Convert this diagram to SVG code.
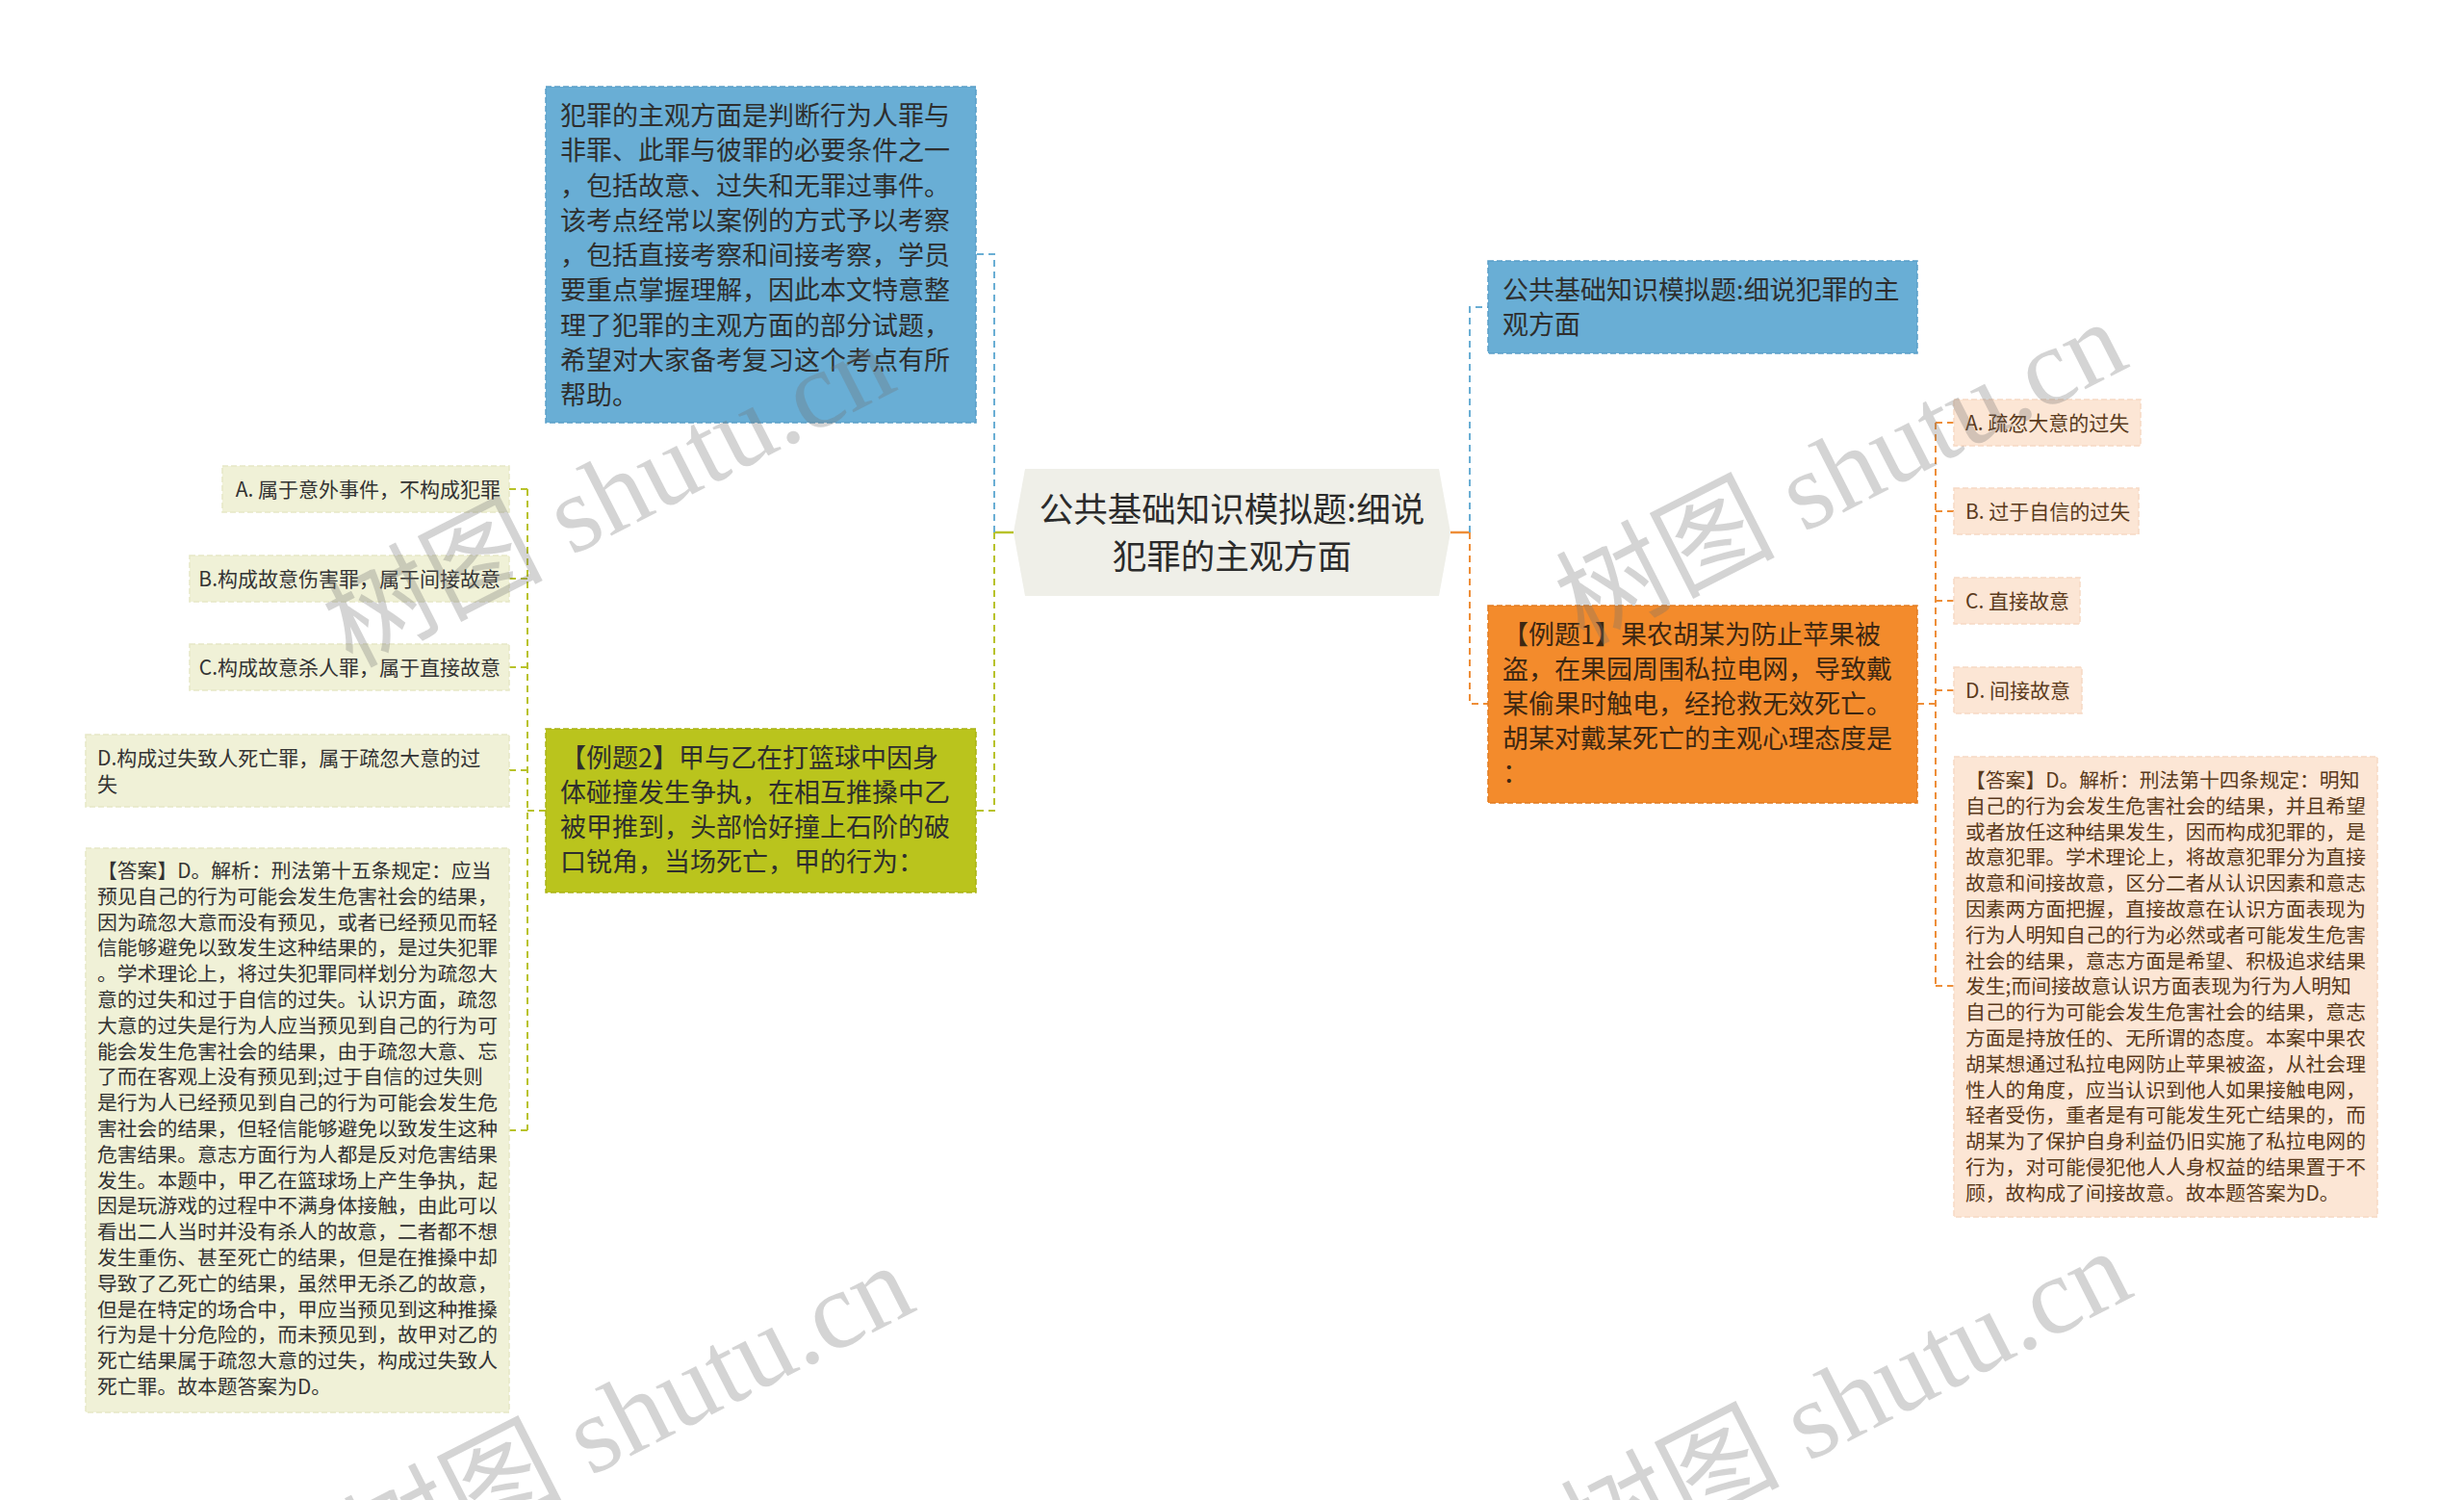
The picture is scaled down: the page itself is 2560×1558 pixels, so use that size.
<svg xmlns="http://www.w3.org/2000/svg" width="2560" height="1558" viewBox="0 0 2560 1558">
<style>
text{font-family:"Noto Sans CJK SC","Microsoft YaHei",sans-serif}
.t27{font-size:27px;fill:#2e2e2e}
.t21{font-size:21px;fill:#333333}
.tr21{font-size:21px;fill:#5a3a1c}
.ta{font-size:20.8px;fill:#333333}
.tra{font-size:20.8px;fill:#5a3a1c}
.blue{fill:#69aed5;stroke:#5a9fc8;stroke-width:1.5;stroke-dasharray:6 3}
.olive{fill:#bac41d;stroke:#a9b214;stroke-width:1.5;stroke-dasharray:6 3}
.orange{fill:#f38b2c;stroke:#e27c20;stroke-width:1.5;stroke-dasharray:6 3}
.pale{fill:#f0f1d7;stroke:#e6e8c6;stroke-width:1.5;stroke-dasharray:6 3}
.peach{fill:#fce6d5;stroke:#f6d9c4;stroke-width:1.5;stroke-dasharray:6 3}
.cb{fill:none;stroke:#6aaed4;stroke-width:2;stroke-dasharray:7 5}
.cg{fill:none;stroke:#b8c22a;stroke-width:2;stroke-dasharray:7 5}
.co{fill:none;stroke:#ee8e38;stroke-width:2;stroke-dasharray:7 5}
.wm{font-family:"Liberation Serif","Noto Sans CJK SC",serif;font-size:114px;fill:#6f6f6f;fill-opacity:0.3}
</style>
<rect width="2560" height="1558" fill="#ffffff"/>

<g id="connectors">
  <path d="M1053,553 H1033" stroke="#b8c22a" stroke-width="2.5" fill="none"/>
  <path class="cb" d="M1033,553 V264 H1014"/>
  <path class="cg" d="M1033,553 V842 H1014"/>
  <path class="cg" d="M567,842 H548"/>
  <path class="cg" d="M548,508 V1174"/>
  <path class="cg" d="M548,508 H529 M548,601 H529 M548,693 H529 M548,800 H529 M548,1174 H529"/>
  <path d="M1507,553 H1527" stroke="#ee8e38" stroke-width="2.5" fill="none"/>
  <path class="cb" d="M1527,553 V319 H1546"/>
  <path class="co" d="M1527,553 V731 H1546"/>
  <path class="co" d="M1992,731 H2011"/>
  <path class="co" d="M2011,439 V1024"/>
  <path class="co" d="M2011,439 H2030 M2011,531 H2030 M2011,624 H2030 M2011,717 H2030 M2011,1024 H2030"/>
</g>

<g id="center">
  <polygon points="1053,553 1065,487 1495,487 1507,553 1495,619 1065,619" fill="#efefe8"/>
  <text x="1280" y="542" text-anchor="middle" style="font-size:35.5px;fill:#2b2b2b">公共基础知识模拟题:细说</text>
  <text x="1280" y="591" text-anchor="middle" style="font-size:35.5px;fill:#2b2b2b">犯罪的主观方面</text>
</g>

<g id="intro">
  <rect class="blue" x="567" y="90" width="447" height="349"/>
  <text class="t27" x="582" y="130">犯罪的主观方面是判断行为人罪与</text>
  <text class="t27" x="582" y="166">非罪、此罪与彼罪的必要条件之一</text>
  <text class="t27" x="582" y="203">，包括故意、过失和无罪过事件。</text>
  <text class="t27" x="582" y="239">该考点经常以案例的方式予以考察</text>
  <text class="t27" x="582" y="275">，包括直接考察和间接考察，学员</text>
  <text class="t27" x="582" y="311">要重点掌握理解，因此本文特意整</text>
  <text class="t27" x="582" y="348">理了犯罪的主观方面的部分试题，</text>
  <text class="t27" x="582" y="384">希望对大家备考复习这个考点有所</text>
  <text class="t27" x="582" y="420">帮助。</text>
</g>

<g id="example2">
  <rect class="olive" x="567" y="757" width="447" height="170"/>
  <text class="t27" x="582" y="797">【例题2】甲与乙在打篮球中因身</text>
  <text class="t27" x="582" y="833">体碰撞发生争执，在相互推搡中乙</text>
  <text class="t27" x="582" y="869">被甲推到，头部恰好撞上石阶的破</text>
  <text class="t27" x="582" y="905">口锐角，当场死亡，甲的行为：</text>
</g>

<g id="left-option-a">
  <rect class="pale" x="231" y="484" width="298" height="48"/>
  <text class="t21" x="520" y="516" text-anchor="end">A. 属于意外事件，不构成犯罪</text>
</g>
<g id="left-option-b">
  <rect class="pale" x="197" y="577" width="332" height="48"/>
  <text class="t21" x="520" y="609" text-anchor="end">B.构成故意伤害罪，属于间接故意</text>
</g>
<g id="left-option-c">
  <rect class="pale" x="197" y="669" width="332" height="48"/>
  <text class="t21" x="520" y="701" text-anchor="end">C.构成故意杀人罪，属于直接故意</text>
</g>
<g id="left-option-d">
  <rect class="pale" x="89" y="763" width="440" height="75"/>
  <text class="t21" x="101" y="795">D.构成过失致人死亡罪，属于疏忽大意的过</text>
  <text class="t21" x="101" y="822">失</text>
</g>

<g id="left-answer">
  <rect class="pale" x="89" y="881" width="440" height="586"/>
  <text class="ta" x="101" y="912">【答案】D。解析：刑法第十五条规定：应当</text>
  <text class="ta" x="101" y="939">预见自己的行为可能会发生危害社会的结果，</text>
  <text class="ta" x="101" y="966">因为疏忽大意而没有预见，或者已经预见而轻</text>
  <text class="ta" x="101" y="992">信能够避免以致发生这种结果的，是过失犯罪</text>
  <text class="ta" x="101" y="1019">。学术理论上，将过失犯罪同样划分为疏忽大</text>
  <text class="ta" x="101" y="1046">意的过失和过于自信的过失。认识方面，疏忽</text>
  <text class="ta" x="101" y="1073">大意的过失是行为人应当预见到自己的行为可</text>
  <text class="ta" x="101" y="1100">能会发生危害社会的结果，由于疏忽大意、忘</text>
  <text class="ta" x="101" y="1126">了而在客观上没有预见到;过于自信的过失则</text>
  <text class="ta" x="101" y="1153">是行为人已经预见到自己的行为可能会发生危</text>
  <text class="ta" x="101" y="1180">害社会的结果，但轻信能够避免以致发生这种</text>
  <text class="ta" x="101" y="1207">危害结果。意志方面行为人都是反对危害结果</text>
  <text class="ta" x="101" y="1234">发生。本题中，甲乙在篮球场上产生争执，起</text>
  <text class="ta" x="101" y="1260">因是玩游戏的过程中不满身体接触，由此可以</text>
  <text class="ta" x="101" y="1287">看出二人当时并没有杀人的故意，二者都不想</text>
  <text class="ta" x="101" y="1314">发生重伤、甚至死亡的结果，但是在推搡中却</text>
  <text class="ta" x="101" y="1341">导致了乙死亡的结果，虽然甲无杀乙的故意，</text>
  <text class="ta" x="101" y="1368">但是在特定的场合中，甲应当预见到这种推搡</text>
  <text class="ta" x="101" y="1394">行为是十分危险的，而未预见到，故甲对乙的</text>
  <text class="ta" x="101" y="1421">死亡结果属于疏忽大意的过失，构成过失致人</text>
  <text class="ta" x="101" y="1448">死亡罪。故本题答案为D。</text>
</g>

<g id="title-right">
  <rect class="blue" x="1546" y="271" width="446" height="96"/>
  <text class="t27" x="1561" y="311">公共基础知识模拟题:细说犯罪的主</text>
  <text class="t27" x="1561" y="347">观方面</text>
</g>

<g id="example1">
  <rect class="orange" x="1546" y="629" width="446" height="205"/>
  <text class="t27" x="1561" y="669" style="fill:#3d2712">【例题1】果农胡某为防止苹果被</text>
  <text class="t27" x="1561" y="705" style="fill:#3d2712">盗，在果园周围私拉电网，导致戴</text>
  <text class="t27" x="1561" y="741" style="fill:#3d2712">某偷果时触电，经抢救无效死亡。</text>
  <text class="t27" x="1561" y="777" style="fill:#3d2712">胡某对戴某死亡的主观心理态度是</text>
  <text class="t27" x="1561" y="813" style="fill:#3d2712">：</text>
</g>

<g id="right-option-a">
  <rect class="peach" x="2030" y="415" width="194" height="48"/>
  <text class="tr21" x="2042" y="447">A. 疏忽大意的过失</text>
</g>
<g id="right-option-b">
  <rect class="peach" x="2030" y="507" width="192" height="48"/>
  <text class="tr21" x="2042" y="539">B. 过于自信的过失</text>
</g>
<g id="right-option-c">
  <rect class="peach" x="2030" y="600" width="131" height="48"/>
  <text class="tr21" x="2042" y="632">C. 直接故意</text>
</g>
<g id="right-option-d">
  <rect class="peach" x="2030" y="693" width="133" height="48"/>
  <text class="tr21" x="2042" y="725">D. 间接故意</text>
</g>

<g id="right-answer">
  <rect class="peach" x="2030" y="786" width="440" height="478"/>
  <text class="tra" x="2042" y="818">【答案】D。解析：刑法第十四条规定：明知</text>
  <text class="tra" x="2042" y="845">自己的行为会发生危害社会的结果，并且希望</text>
  <text class="tra" x="2042" y="872">或者放任这种结果发生，因而构成犯罪的，是</text>
  <text class="tra" x="2042" y="898">故意犯罪。学术理论上，将故意犯罪分为直接</text>
  <text class="tra" x="2042" y="925">故意和间接故意，区分二者从认识因素和意志</text>
  <text class="tra" x="2042" y="952">因素两方面把握，直接故意在认识方面表现为</text>
  <text class="tra" x="2042" y="979">行为人明知自己的行为必然或者可能发生危害</text>
  <text class="tra" x="2042" y="1006">社会的结果，意志方面是希望、积极追求结果</text>
  <text class="tra" x="2042" y="1032">发生;而间接故意认识方面表现为行为人明知</text>
  <text class="tra" x="2042" y="1059">自己的行为可能会发生危害社会的结果，意志</text>
  <text class="tra" x="2042" y="1086">方面是持放任的、无所谓的态度。本案中果农</text>
  <text class="tra" x="2042" y="1113">胡某想通过私拉电网防止苹果被盗，从社会理</text>
  <text class="tra" x="2042" y="1140">性人的角度，应当认识到他人如果接触电网，</text>
  <text class="tra" x="2042" y="1166">轻者受伤，重者是有可能发生死亡结果的，而</text>
  <text class="tra" x="2042" y="1193">胡某为了保护自身利益仍旧实施了私拉电网的</text>
  <text class="tra" x="2042" y="1220">行为，对可能侵犯他人人身权益的结果置于不</text>
  <text class="tra" x="2042" y="1247">顾，故构成了间接故意。故本题答案为D。</text>
</g>

<g id="watermarks">
  <text class="wm" transform="translate(365,694) rotate(-27)">树图 shutu.cn</text>
  <text class="wm" transform="translate(1645,670) rotate(-27)">树图 shutu.cn</text>
  <text class="wm" transform="translate(385,1650) rotate(-27)">树图 shutu.cn</text>
  <text class="wm" transform="translate(1650,1635) rotate(-27)">树图 shutu.cn</text>
</g>
</svg>
